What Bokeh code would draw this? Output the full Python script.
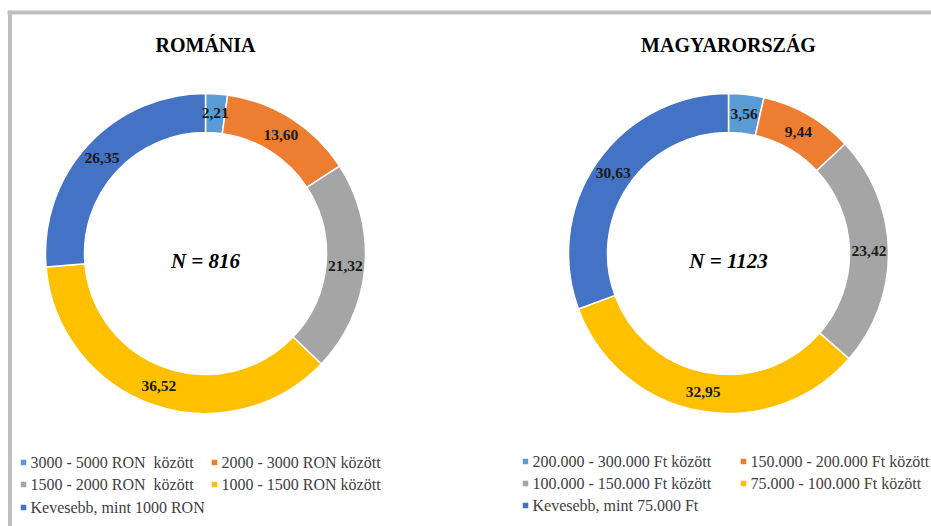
import math
from bokeh.plotting import figure
from bokeh.models import Range1d, ColumnDataSource
from bokeh.core.properties import value
from bokeh.embed import file_html
from bokeh.resources import INLINE

# ---- data ----
ro_title = "ROMÁNIA"
hu_title = "MAGYARORSZÁG"
ro_n = "N = 816"
hu_n = "N = 1123"
ro_labels = ["3000 - 5000 RON\u00a0\u00a0között", "2000 - 3000 RON között",
             "1500 - 2000 RON\u00a0\u00a0között", "1000 - 1500 RON között",
             "Kevesebb, mint 1000 RON"]
ro_values = [2.21, 13.60, 21.32, 36.52, 26.35]
hu_labels = ["200.000 - 300.000 Ft között", "150.000 - 200.000 Ft között",
             "100.000 - 150.000 Ft között", "75.000 - 100.000 Ft között",
             "Kevesebb, mint 75.000 Ft"]
hu_values = [3.56, 9.44, 23.42, 32.95, 30.63]
colors = ["#5B9BD5", "#ED7D31", "#A5A5A5", "#FFC000", "#4472C4"]

W, H = 931, 526
SERIF = value("Liberation Serif")

p = figure(width=W, height=H, output_backend="svg", toolbar_location=None,
           x_range=Range1d(0, W), y_range=Range1d(0, H),
           x_axis_location=None, y_axis_location=None, min_border=0)
p.outline_line_color = None
p.grid.visible = False
p.background_fill_color = "white"
p.border_fill_color = "white"

def X(sx):
    return sx

def Y(sy):
    return H - sy

# frame
p.segment(x0=[X(7)], y0=[Y(12)], x1=[W + 2], y1=[Y(12)], line_color="#c0c0c0", line_width=4)
p.segment(x0=[X(9.5)], y0=[Y(10)], x1=[X(9.5)], y1=[-2], line_color="#c0c0c0", line_width=4)

R_OUT, R_IN = 160, 121

def donut(cx, cy, vals, title, ntext):
    total = sum(vals)
    starts, ends, lx, ly, txt = [], [], [], [], []
    cum = 0.0
    for v in vals:
        a0 = math.pi / 2 - cum / total * 2 * math.pi
        cum += v
        a1 = math.pi / 2 - cum / total * 2 * math.pi
        starts.append(a0)
        ends.append(a1)
        mid = (a0 + a1) / 2
        rm = (R_OUT + R_IN) / 2
        lx.append(X(cx) + rm * math.cos(mid))
        ly.append(Y(cy) + rm * math.sin(mid))
        txt.append(f"{v:.2f}".replace(".", ","))
    src = ColumnDataSource(dict(x=[X(cx)] * len(vals), y=[Y(cy)] * len(vals),
                                s=starts, e=ends, c=colors))
    p.annular_wedge(x="x", y="y", inner_radius=R_IN, outer_radius=R_OUT,
                    start_angle="s", end_angle="e", direction="clock",
                    fill_color="c", line_color="white", line_width=1.5, source=src)
    p.text(x=lx, y=ly, text=txt, text_font=SERIF, text_font_style="bold",
           text_font_size="15.5px", text_color="#1a1a1a",
           text_align="center", text_baseline="middle")
    p.text(x=[X(cx)], y=[Y(44)], text=[title], text_font=SERIF, text_font_style="bold",
           text_font_size="20px", text_color="#000000",
           text_align="center", text_baseline="middle")
    p.text(x=[X(cx)], y=[Y(260)], text=[ntext], text_font=SERIF,
           text_font_style="bold italic", text_font_size="21px", text_color="#000000",
           text_align="center", text_baseline="middle")

donut(205, 253, ro_values, ro_title, ro_n)
donut(728, 253, hu_values, hu_title, hu_n)

def legend(labels, col_x, row_y):
    mx, my, tx, ty = [], [], [], []
    for i, lab in enumerate(labels):
        c = col_x[i % 2]
        r = row_y[i // 2]
        mx.append(X(c))
        my.append(Y(r))
        tx.append(X(c + 7))
        ty.append(Y(r))
    p.rect(x=mx, y=my, width=5.5, height=5.5, fill_color=colors, line_color=None)
    p.text(x=tx, y=ty, text=labels, text_font=SERIF, text_font_size="16px",
           text_color="#404040", text_align="left", text_baseline="middle")

legend(ro_labels, [23, 214], [462, 484, 507])
legend(hu_labels, [525, 743], [461, 483, 505])

open("out.html", "w").write(file_html(p, INLINE))
